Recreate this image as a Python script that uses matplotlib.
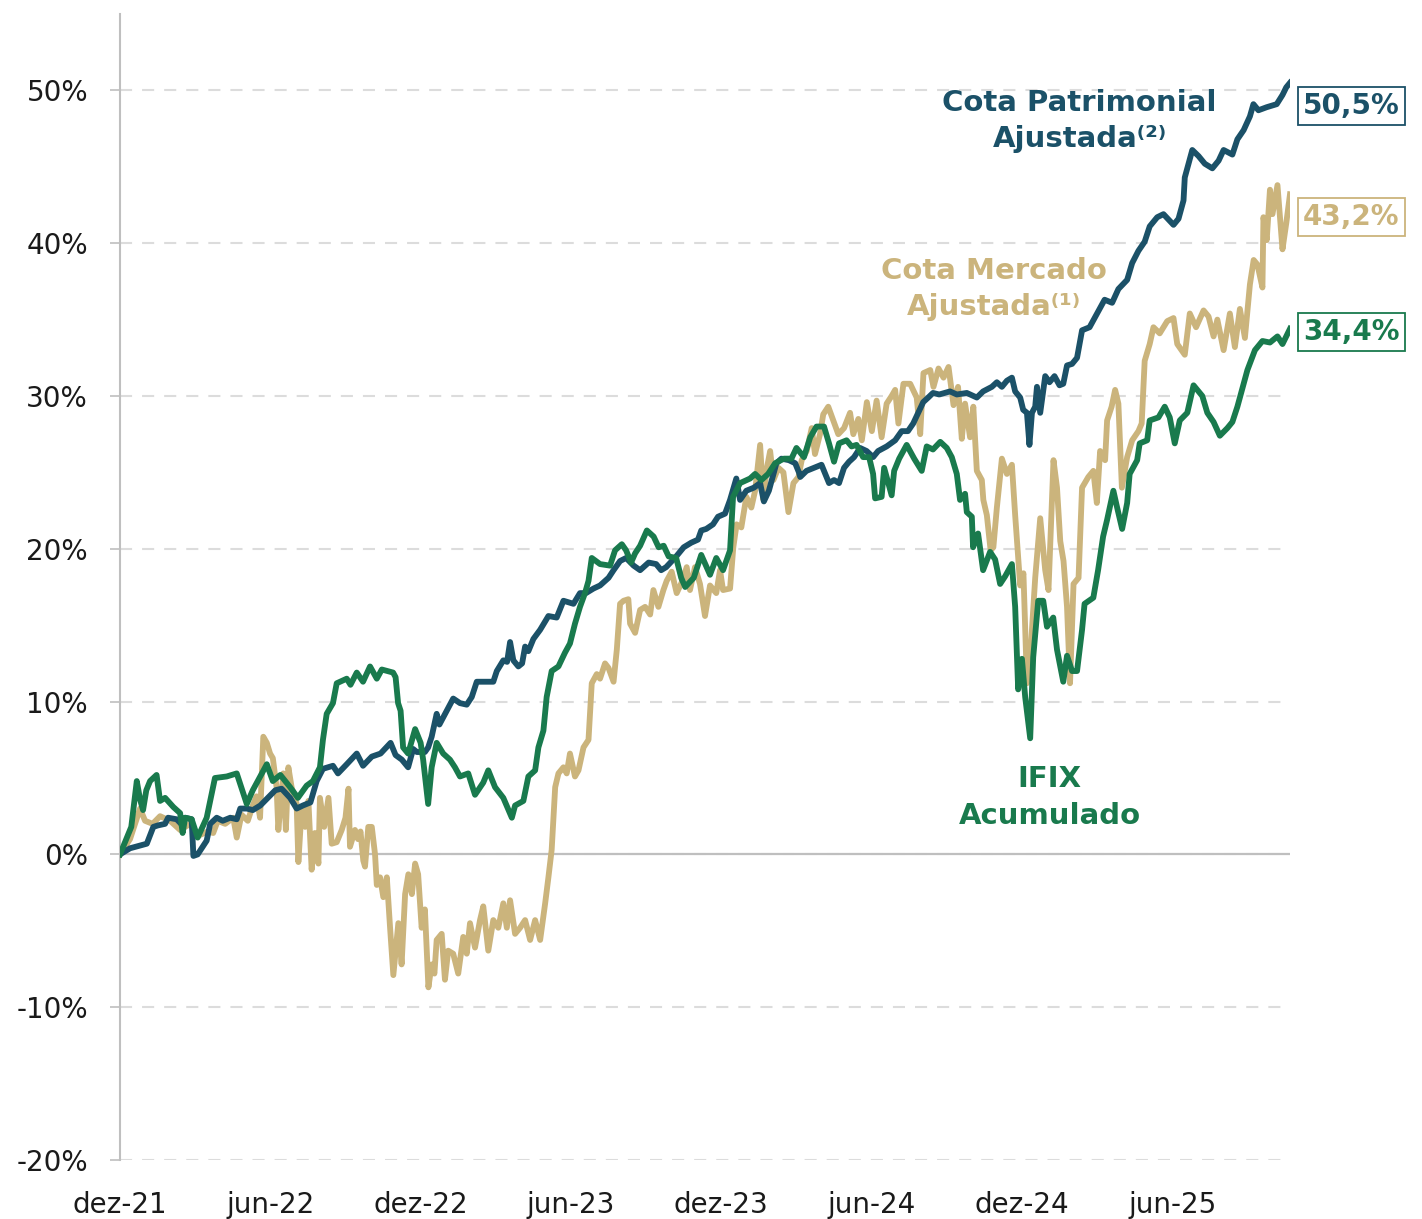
import matplotlib
matplotlib.use("Agg")
from matplotlib import pyplot as plt
import matplotlib.ticker as mticker

# x = months since dez-21, y = accumulated return in %
tick_months = [0, 6, 12, 18, 24, 30, 36, 42]
tick_labels = ["dez-21", "jun-22", "dez-22", "jun-23", "dez-23", "jun-24", "dez-24", "jun-25"]

ifix_months = [
    0, 0.2, 0.45, 0.67, 0.8, 0.92, 1.05, 1.2, 1.46, 1.6,
    1.8, 2.13, 2.4, 2.5, 2.6, 2.86, 3.1, 3.46, 3.79, 4.26,
    4.66, 4.8, 5.06, 5.3, 5.86, 6.1, 6.4, 6.79, 7.1, 7.45,
    7.7, 7.98, 8.1, 8.25, 8.5, 8.65, 9.05, 9.2, 9.45, 9.7,
    9.98, 10.25, 10.45, 10.9, 11.0, 11.1, 11.2, 11.3, 11.5, 11.78,
    12.0, 12.1, 12.3, 12.44, 12.64, 12.9, 13.17, 13.37, 13.57, 13.9,
    14.17, 14.5, 14.7, 14.97, 15.3, 15.64, 15.77, 16.1, 16.3, 16.57,
    16.7, 16.9, 17.03, 17.23, 17.5, 17.76, 17.96, 18.16, 18.36, 18.56,
    18.7, 18.83, 19.16, 19.56, 19.76, 20.03, 20.2, 20.4, 20.56, 20.76,
    21.03, 21.3, 21.5, 21.7, 21.9, 22.2, 22.4, 22.56, 22.9, 23.2,
    23.55, 23.8, 24.07, 24.35, 24.47, 24.75, 25.15, 25.35, 25.6, 25.87,
    26.15, 26.5, 26.8, 27.0, 27.3, 27.55, 27.8, 28.1, 28.3, 28.5,
    28.7, 29.0, 29.2, 29.4, 29.66, 29.9, 30.06, 30.14, 30.4, 30.5,
    30.8, 30.9, 31.1, 31.4, 31.7, 32.0, 32.2, 32.45, 32.74, 33.0,
    33.2, 33.4, 33.53, 33.73, 33.8, 34.0, 34.05, 34.25, 34.45, 34.73,
    34.93, 35.13, 35.33, 35.6, 35.73, 35.85, 36.0, 36.13, 36.33, 36.45,
    36.65, 36.85, 37.0, 37.25, 37.4, 37.65, 37.8, 38.0, 38.2, 38.4,
    38.5, 38.85, 39.04, 39.24, 39.4, 39.65, 39.8, 40.0, 40.2, 40.3,
    40.6, 40.7, 41.0, 41.1, 41.45, 41.7, 41.9, 42.1, 42.3, 42.6,
    42.85, 43.2, 43.4, 43.65, 43.9, 44.2, 44.4, 44.6, 44.8, 45.0,
    45.3, 45.6, 45.9, 46.2, 46.4, 46.7]
ifix_values = [
    0.0, 0.8, 1.8, 4.8, 3.6, 2.9, 4.2, 4.8, 5.2, 3.5,
    3.7, 3.1, 2.7, 1.4, 2.4, 2.3, 1.1, 2.4, 5.0, 5.1,
    5.3, 4.6, 3.3, 4.2, 5.9, 4.8, 5.2, 4.4, 3.7, 4.5,
    4.8, 5.7, 7.5, 9.2, 9.9, 11.2, 11.5, 11.1, 11.9, 11.3,
    12.3, 11.5, 12.1, 11.9, 11.6, 9.9, 9.4, 7.0, 6.6, 8.2,
    7.3, 6.2, 3.3, 5.7, 7.3, 6.6, 6.2, 5.7, 5.1, 5.3,
    3.9, 4.7, 5.5, 4.4, 3.7, 2.4, 3.2, 3.5, 5.1, 5.5,
    7.0, 8.1, 10.3, 12.0, 12.3, 13.2, 13.8, 15.1, 16.2, 17.1,
    17.9, 19.4, 19.0, 18.9, 19.9, 20.3, 19.9, 19.1, 19.7, 20.2,
    21.2, 20.8, 20.1, 20.2, 19.5, 19.4, 18.1, 17.5, 18.1, 19.6,
    18.3, 19.4, 18.6, 19.9, 23.4, 24.3, 24.6, 24.9, 24.5, 24.9,
    25.6, 25.9, 25.9, 26.6, 26.0, 27.3, 28.0, 28.0, 26.9, 25.7,
    26.9, 27.1, 26.7, 26.8, 26.0, 26.0, 24.9, 23.3, 23.4, 25.3,
    23.5, 25.1, 25.9, 26.8, 25.9, 25.1, 26.7, 26.5, 27.0, 26.6,
    26.0, 24.9, 23.2, 23.6, 22.4, 22.1, 20.1, 21.0, 18.6, 19.8,
    19.3, 17.7, 18.2, 19.0, 16.2, 10.8, 12.8, 10.3, 7.6, 12.9,
    16.6, 16.6, 14.9, 15.5, 13.4, 11.3, 13.0, 12.0, 12.0, 14.7,
    16.4, 16.8, 18.6, 20.8, 21.9, 23.8, 22.7, 21.3, 23.0, 24.9,
    25.8, 26.9, 27.1, 28.4, 28.6, 29.3, 28.6, 26.9, 28.4, 28.9,
    30.7, 30.0, 28.9, 28.3, 27.4, 27.9, 28.3, 29.3, 30.5, 31.7,
    33.0, 33.6, 33.5, 33.9, 33.4, 34.4]

patrimonial_months = [
    0, 0.4, 1.07, 1.33, 1.52, 1.8, 1.92, 2.26, 2.5, 2.6,
    2.86, 2.93, 3.1, 3.3, 3.46, 3.6, 3.86, 4.1, 4.4, 4.66,
    4.8, 5.06, 5.3, 5.6, 5.9, 6.2, 6.45, 6.79, 7.05, 7.3,
    7.6, 7.85, 8.1, 8.5, 8.7, 9.05, 9.45, 9.7, 10.05, 10.4,
    10.8, 11.0, 11.25, 11.5, 11.7, 11.85, 12.17, 12.3, 12.44, 12.64,
    12.75, 13.04, 13.3, 13.57, 13.84, 14.04, 14.24, 14.63, 14.9, 15.04,
    15.3, 15.45, 15.57, 15.7, 15.9, 16.05, 16.17, 16.3, 16.5, 16.77,
    17.1, 17.43, 17.7, 18.1, 18.36, 18.6, 18.9, 19.16, 19.5, 19.7,
    19.96, 20.2, 20.5, 20.76, 21.1, 21.4, 21.6, 21.8, 22.2, 22.5,
    22.8, 23.07, 23.2, 23.4, 23.67, 23.87, 24.15, 24.35, 24.6, 24.75,
    25.0, 25.3, 25.55, 25.7, 25.9, 26.2, 26.4, 26.7, 26.95, 27.1,
    27.15, 27.4, 27.7, 28.0, 28.2, 28.3, 28.5, 28.7, 28.9, 29.1,
    29.3, 29.54, 29.8, 30.06, 30.26, 30.6, 30.94, 31.2, 31.45, 31.66,
    31.86, 32.06, 32.26, 32.45, 32.7, 33.13, 33.4, 33.8, 34.2, 34.45,
    34.8, 35.0, 35.2, 35.4, 35.6, 35.73, 35.93, 36.05, 36.2, 36.3,
    36.4, 36.53, 36.6, 36.73, 36.93, 37.1, 37.3, 37.5, 37.65, 37.8,
    38.0, 38.2, 38.4, 38.7, 39.1, 39.3, 39.6, 39.85, 40.2, 40.4,
    40.65, 40.9, 41.1, 41.4, 41.65, 42.05, 42.25, 42.45, 42.5, 42.8,
    43.05, 43.3, 43.6, 43.85, 44.05, 44.4, 44.6, 44.85, 45.1, 45.24,
    45.44, 45.77, 46.17, 46.4, 46.55, 46.7]
patrimonial_values = [
    0.0, 0.4, 0.7, 1.8, 1.9, 2.0, 2.4, 2.3, 1.9, 2.4,
    2.3, -0.1, 0.0, 0.5, 0.9, 2.0, 2.4, 2.2, 2.4, 2.3,
    3.0, 3.0, 2.9, 3.2, 3.7, 4.2, 4.3, 3.7, 3.0, 3.2,
    3.4, 4.8, 5.6, 5.8, 5.3, 5.9, 6.6, 5.8, 6.4, 6.6,
    7.3, 6.5, 6.2, 5.7, 6.9, 6.7, 6.7, 7.0, 7.7, 9.2,
    8.5, 9.4, 10.2, 9.9, 9.8, 10.3, 11.3, 11.3, 11.3, 12.0,
    12.7, 12.6, 13.9, 12.7, 12.3, 12.5, 13.6, 13.3, 14.1, 14.7,
    15.6, 15.5, 16.6, 16.4, 17.1, 17.1, 17.4, 17.6, 18.1, 18.6,
    19.2, 19.4, 18.9, 18.6, 19.1, 19.0, 18.6, 18.8, 19.5, 20.1,
    20.4, 20.6, 21.2, 21.3, 21.6, 22.1, 22.3, 23.2, 24.6, 23.2,
    23.8, 24.0, 24.3, 23.1, 23.8, 25.6, 25.9, 25.8, 25.6, 25.0,
    24.7, 25.1, 25.3, 25.5, 24.7, 24.3, 24.5, 24.3, 25.3, 25.7,
    26.0, 26.6, 26.4, 26.0, 26.4, 26.7, 27.1, 27.7, 27.7, 28.2,
    28.9, 29.6, 29.9, 30.2, 30.1, 30.3, 30.1, 30.2, 29.9, 30.3,
    30.6, 30.9, 30.6, 31.0, 31.2, 30.3, 29.9, 29.1, 28.9, 26.8,
    28.9, 29.3, 30.6, 28.9, 31.3, 30.9, 31.3, 30.7, 30.8, 32.0,
    32.1, 32.5, 34.3, 34.5, 35.7, 36.3, 36.1, 37.0, 37.6, 38.7,
    39.5, 40.1, 41.1, 41.7, 41.9, 41.2, 41.6, 42.8, 44.3, 46.1,
    45.7, 45.2, 44.9, 45.4, 46.1, 45.8, 46.8, 47.4, 48.3, 49.1,
    48.7, 48.9, 49.1, 49.7, 50.2, 50.5]

mercado_months = [
    0, 0.4, 0.8, 1.0, 1.3, 1.6, 2.0, 2.4, 2.8, 3.1,
    3.5, 3.72, 3.9, 4.2, 4.52, 4.66, 4.85, 5.1, 5.3, 5.45,
    5.59, 5.72, 5.86, 5.99, 6.1, 6.25, 6.32, 6.52, 6.62, 6.72,
    6.85, 7.05, 7.12, 7.25, 7.39, 7.52, 7.65, 7.78, 7.92, 7.98,
    8.15, 8.32, 8.45, 8.65, 8.85, 9.0, 9.12, 9.18, 9.38, 9.5,
    9.6, 9.71, 9.78, 9.91, 10.05, 10.18, 10.25, 10.38, 10.51, 10.65,
    10.78, 10.91, 11.11, 11.24, 11.38, 11.51, 11.65, 11.78, 11.9, 12.04,
    12.17, 12.31, 12.44, 12.55, 12.64, 12.84, 12.97, 13.1, 13.3, 13.5,
    13.7, 13.84, 13.97, 14.17, 14.37, 14.5, 14.7, 14.9, 15.1, 15.3,
    15.44, 15.57, 15.77, 15.97, 16.17, 16.37, 16.57, 16.77, 16.97, 17.1,
    17.23, 17.37, 17.5, 17.7, 17.83, 17.96, 18.16, 18.3, 18.5, 18.7,
    18.83, 19.03, 19.16, 19.36, 19.5, 19.7, 19.83, 19.96, 20.1, 20.29,
    20.36, 20.56, 20.76, 20.96, 21.16, 21.29, 21.49, 21.69, 21.82, 22.02,
    22.22, 22.42, 22.62, 22.75, 22.95, 23.15, 23.35, 23.55, 23.8, 23.95,
    24.07, 24.35, 24.48, 24.61, 24.8, 25.0, 25.2, 25.35, 25.55, 25.68,
    25.8, 25.95, 26.08, 26.28, 26.48, 26.68, 26.88, 27.08, 27.21, 27.41,
    27.61, 27.74, 27.94, 28.07, 28.27, 28.47, 28.67, 28.9, 29.14, 29.27,
    29.47, 29.61, 29.81, 30.01, 30.2, 30.4, 30.6, 30.8, 30.94, 31.07,
    31.27, 31.54, 31.8, 31.94, 32.07, 32.34, 32.47, 32.67, 32.87, 33.07,
    33.27, 33.45, 33.6, 33.73, 33.93, 34.06, 34.2, 34.4, 34.46, 34.6,
    34.75, 34.86, 35.0, 35.2, 35.4, 35.6, 35.73, 35.93, 36.06, 36.2,
    36.3, 36.4, 36.53, 36.73, 36.93, 37.06, 37.26, 37.4, 37.53, 37.66,
    37.8, 37.92, 38.06, 38.26, 38.4, 38.65, 38.85, 38.99, 39.12, 39.32,
    39.4, 39.58, 39.72, 39.85, 39.99, 40.2, 40.4, 40.65, 40.78, 40.9,
    41.1, 41.25, 41.5, 41.8, 42.05, 42.2, 42.5, 42.7, 42.95, 43.25,
    43.45, 43.65, 43.8, 44.05, 44.3, 44.5, 44.7, 44.9, 45.1, 45.25,
    45.4, 45.6, 45.64, 45.77, 45.9, 46.0, 46.2, 46.4, 46.55, 46.7]
mercado_values = [
    0.0, 1.0, 3.0, 2.2, 2.0, 2.5, 2.2, 1.6, 2.0, 1.2,
    1.5, 1.4, 2.2, 2.0, 2.4, 1.1, 2.6, 2.2, 3.2, 3.8,
    2.4, 7.7, 7.3, 6.6, 6.3, 4.4, 1.6, 5.3, 1.6, 5.7,
    4.4, 3.3, -0.5, 3.0, 1.8, 3.5, -1.0, 1.4, -0.6, 3.7,
    1.8, 3.7, 0.7, 0.8, 1.6, 2.4, 4.3, 0.5, 1.6, 1.0,
    1.5, -0.4, -0.8, 1.8, 1.8, 0.0, -2.0, -1.5, -2.8, -1.5,
    -4.8, -7.9, -4.5, -7.2, -2.6, -1.3, -2.6, -0.6, -1.3, -4.8,
    -3.6, -8.7, -7.2, -7.8, -5.6, -5.2, -8.2, -6.3, -6.5, -7.8,
    -5.4, -6.5, -4.5, -6.1, -4.3, -3.4, -6.3, -4.3, -4.8, -3.2,
    -4.8, -3.0, -5.2, -4.8, -4.3, -5.6, -4.3, -5.6, -3.2, -1.5,
    0.3, 4.4, 5.3, 5.7, 5.3, 6.6, 5.1, 5.5, 7.0, 7.5,
    11.2, 11.8, 11.5, 12.5, 12.2, 11.3, 13.4, 16.4, 16.6, 16.7,
    15.1, 14.5, 16.0, 16.2, 15.7, 17.3, 16.2, 17.3, 17.9, 18.5,
    17.1, 17.8, 18.8, 17.3, 18.8, 17.7, 15.6, 17.6, 17.1, 18.6,
    17.3, 17.4, 20.1, 21.6, 21.4, 23.4, 22.7, 23.8, 26.8, 23.2,
    25.1, 26.4, 24.5, 25.3, 25.0, 22.4, 24.3, 24.7, 25.8, 26.4,
    27.9, 26.2, 27.5, 28.8, 29.3, 28.4, 27.5, 27.9, 28.9, 27.5,
    28.5, 27.1, 29.6, 27.7, 29.7, 27.3, 29.5, 30.0, 30.4, 28.2,
    30.8, 30.8, 29.9, 27.5, 31.5, 31.7, 30.6, 31.8, 31.2, 31.9,
    29.4, 30.6, 27.2, 29.5, 27.3, 29.3, 25.1, 24.5, 23.2, 22.2,
    19.9, 20.1, 22.7, 25.9, 24.9, 25.5, 22.2, 17.6, 18.4, 11.2,
    11.6, 14.7, 18.1, 22.0, 18.6, 17.3, 25.8, 24.0, 20.5, 19.2,
    16.2, 11.2, 17.7, 18.1, 24.0, 24.7, 25.1, 23.0, 26.4, 25.8,
    28.4, 29.3, 30.4, 29.5, 24.0, 26.0, 27.1, 27.7, 28.2, 32.3,
    33.4, 34.5, 34.1, 34.9, 35.1, 33.4, 32.7, 35.4, 34.5, 35.6,
    35.2, 33.9, 35.0, 33.0, 35.4, 33.2, 35.7, 33.8, 37.3, 38.9,
    38.6, 37.1, 41.7, 40.2, 43.5, 41.9, 43.8, 39.6, 41.3, 43.2]

blue = "#1b5168"
gold = "#cbb47c"
green = "#197a4d"
grey = "#bfbfbf"

W, H = 1422, 1219
fig = plt.figure(figsize=(W / 100, H / 100), dpi=100)
ax = fig.add_axes([120 / W, 1 - 1160 / H, (1290 - 120) / W, (1160 - 14) / H])

lw = 4.2
ax.plot(mercado_months, mercado_values, color=gold, lw=lw, solid_joinstyle="round", zorder=3)
ax.plot(patrimonial_months, patrimonial_values, color=blue, lw=lw, solid_joinstyle="round", zorder=4)
ax.plot(ifix_months, ifix_values, color=green, lw=lw, solid_joinstyle="round", zorder=5)

ax.set_xlim(0, 46.7)
ax.set_ylim(-20, 55)

ax.set_yticks(range(-20, 51, 10))
ax.yaxis.set_major_formatter(mticker.FuncFormatter(lambda v, p: f"{int(v)}%"))
ax.set_xticks(tick_months)
ax.set_xticklabels(tick_labels)

ax.yaxis.grid(True, linestyle=(0, (5.8, 4.8)), color="#dcdcdc", lw=1.5, zorder=0)
ax.axhline(0, color=grey, lw=1.6, zorder=2.6)

for side in ["top", "right", "bottom"]:
    ax.spines[side].set_visible(False)
ax.spines["left"].set_color(grey)
ax.spines["left"].set_linewidth(1.5)

ax.tick_params(axis="y", length=7, width=1.2, color=grey, pad=16, labelsize=20, labelcolor="#1a1a1a")
ax.tick_params(axis="x", length=0, pad=22, labelsize=20, labelcolor="#1a1a1a")

# series labels
ax.text(38.3, 48.0, "Cota Patrimonial\nAjustada⁽²⁾", ha="center", va="center",
        fontsize=21, fontweight="bold", color=blue, linespacing=1.4)
ax.text(34.9, 37.0, "Cota Mercado\nAjustada⁽¹⁾", ha="center", va="center",
        fontsize=21, fontweight="bold", color=gold, linespacing=1.4)
ax.text(37.1, 3.7, "IFIX\nAcumulado", ha="center", va="center",
        fontsize=21, fontweight="bold", color=green, linespacing=1.4)

# final value boxes
for xs, ys, c, dy in [(patrimonial_months, patrimonial_values, blue, -17),
                      (mercado_months, mercado_values, gold, -16.5),
                      (ifix_months, ifix_values, green, -2)]:
    txt = f"{ys[-1]:.1f}%".replace(".", ",")
    ax.annotate(txt, xy=(xs[-1], ys[-1]), xytext=(9.5, dy), textcoords="offset points",
                ha="left", va="center", fontsize=20, fontweight="bold", color=c,
                bbox=dict(boxstyle="square,pad=0.18", fc="white", ec=c, lw=1.3),
                annotation_clip=False, zorder=6)

fig.savefig("out.png", dpi=100)
